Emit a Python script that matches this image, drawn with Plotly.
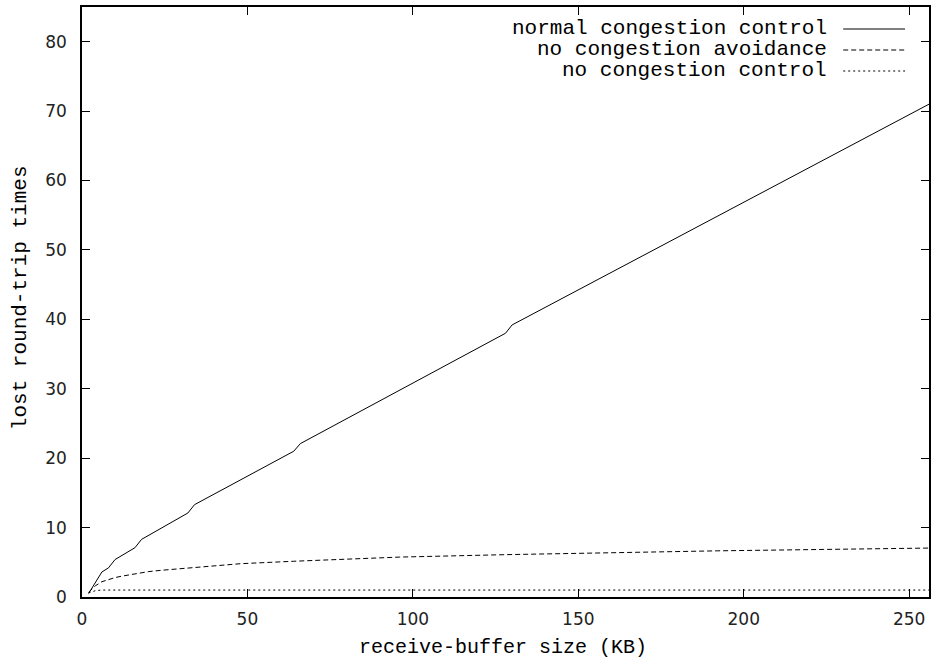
import plotly.graph_objects as go

# ---- data ----
normal_x = [2, 4, 6, 8, 10, 16, 18, 32, 34, 64, 66, 128, 130, 256]
normal_y = [0.5, 2.1, 3.6, 4.2, 5.4, 7.1, 8.3, 12.1, 13.3, 21.0, 22.1, 38.0, 39.2, 71.0]

noavoid_x = [2, 4, 6, 8, 10, 12, 16, 20, 24, 32, 40, 48, 64, 80, 96, 128, 160, 192, 224, 256]
noavoid_y = [0.68, 1.6, 2.2, 2.55, 2.8, 3.0, 3.35, 3.65, 3.85, 4.2, 4.5, 4.8, 5.15, 5.5, 5.75,
             6.1, 6.4, 6.65, 6.85, 7.05]

nocc_x = [2, 4, 6, 8, 16, 32, 64, 128, 256]
nocc_y = [0.6, 0.9, 1.0, 1.0, 1.0, 1.0, 1.0, 1.0, 1.0]

x_ticks = [0, 50, 100, 150, 200, 250]
y_ticks = [0, 10, 20, 30, 40, 50, 60, 70, 80]

series_names = ["normal congestion control", "no congestion avoidance", "no congestion control"]
dash_styles = ["solid", "5px,3px", "2px,3px"]

# ---- layout constants (pixels) ----
W, H = 933, 662
ML, MR, MT, MB = 82, 2, 7, 65
PW, PH = W - ML - MR, H - MT - MB

def px_x(p):
    return (p - ML) / PW

def px_y(p):
    return (H - MB - p) / PH

MONO = "Liberation Mono, Courier New, monospace"
SANS = "DejaVu Sans, sans-serif"

fig = go.Figure()
for xs, ys, dash in zip([normal_x, noavoid_x, nocc_x], [normal_y, noavoid_y, nocc_y], dash_styles):
    fig.add_trace(go.Scatter(x=xs, y=ys, mode="lines",
                             line=dict(color="black", width=1, dash=dash),
                             showlegend=False, hoverinfo="skip"))

# manual gnuplot-style key (text right, sample line to the right)
rows_px = [29, 50, 71]
annotations = []
shapes = []
for name, dash, ry in zip(series_names, dash_styles, rows_px):
    annotations.append(dict(x=px_x(831), y=px_y(ry), xref="paper", yref="paper",
                            text=name, showarrow=False, xanchor="right", yanchor="middle",
                            font=dict(family=MONO, size=21, color="black")))
    shapes.append(dict(type="line", xref="paper", yref="paper",
                       x0=px_x(845), x1=px_x(907), y0=px_y(ry), y1=px_y(ry),
                       line=dict(color="black", width=1, dash=dash)))

annotations.append(dict(x=px_x(504), y=px_y(647), xref="paper", yref="paper",
                        text="receive-buffer size (KB)", showarrow=False,
                        xanchor="center", yanchor="middle",
                        font=dict(family=MONO, size=20, color="black")))
annotations.append(dict(x=px_x(20), y=px_y(298), xref="paper", yref="paper",
                        text="lost round-trip times", showarrow=False, textangle=-90,
                        xanchor="center", yanchor="middle",
                        font=dict(family=MONO, size=21, color="black")))

axis_common = dict(showgrid=False, zeroline=False, showline=True, linecolor="black",
                   linewidth=1.5, mirror="allticks", ticks="inside", ticklen=8,
                   tickwidth=1, tickcolor="black",
                   tickfont=dict(family=SANS, size=17, color="#222"))

fig.update_layout(
    width=W, height=H,
    margin=dict(l=ML, r=MR, t=MT, b=MB, pad=0),
    paper_bgcolor="white", plot_bgcolor="white",
    xaxis=dict(range=[0, 256], tickvals=x_ticks, ticktext=[str(v) for v in x_ticks],
               ticklabelstandoff=6, **axis_common),
    yaxis=dict(range=[0, 85], tickvals=y_ticks, ticktext=[str(v) for v in y_ticks],
               ticklabelstandoff=10, **axis_common),
    annotations=annotations, shapes=shapes,
)

fig.write_html("out.html", config={"displayModeBar": False},
               post_script="document.body.style.margin='0';")
